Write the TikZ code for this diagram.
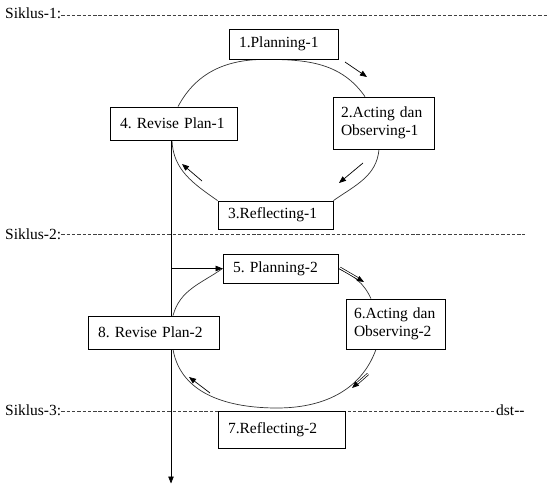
\documentclass[tikz,border=0pt]{standalone}
\usepackage{fontspec}
\setmainfont{Liberation Serif}
\usetikzlibrary{arrows.meta,backgrounds}
\frenchspacing
\begin{document}
\begin{tikzpicture}[x=1pt,y=1pt,
  box/.style={draw=black, fill=white, line width=0.8pt, inner xsep=10pt, inner ysep=0pt, align=left, font=\fontsize{15.5}{17.5}\selectfont},
  lbl/.style={inner sep=0pt, anchor=base west, font=\fontsize{15.5}{17.5}\selectfont},
  sepline/.style={draw=black!75, line width=0.7pt, dash pattern=on 3.4pt off 1.9pt},
  cyc/.style={draw=black!80, line width=0.7pt},
  arr/.style={draw=black, line width=0.7pt, -{Triangle[length=7pt,width=5.5pt]}},
  darr/.style={arr, double=white, double distance=1.1pt}
]
\useasboundingbox (0,0) rectangle (549,-484);

% section labels and separators
\node[lbl] (s1) at (5,-19) {Siklus-1:};
\node[lbl] (s2) at (5,-239) {Siklus-2:};
\node[lbl] (s3) at (5,-415) {Siklus-3:};
\node[lbl] (dst) at (496,-415) {dst-{}-};
\coordinate (s1e) at (549,-15.5);
\coordinate (s2e) at (525,-234.5);
\draw[sepline] (s1.east |- s1e) -- (s1e);
\draw[sepline] (s2.east |- s2e) -- (s2e);
\draw[sepline] ([yshift=4pt]s3.base east) -- ([yshift=4pt]dst.base west);

% boxes
\node[box, text width=89pt, minimum height=30pt] (B1) at (283.5,-44) {1.Planning-1};
\node[box, inner xsep=8pt, text width=85pt, minimum height=52pt] (B2) at (383.5,-123) {2.Acting dan\\Observing-1};
\node[box, text width=95pt, minimum height=28pt] (B3) at (275.5,-215) {3.Reflecting-1};
\node[box, text width=107pt, minimum height=33pt] (B4) at (173.5,-123.5) {4. Revise Plan-1};
\node[box, text width=95pt, minimum height=29pt] (B5) at (280.5,-268.5) {5. Planning-2};
\node[box, inner xsep=8pt, text width=83pt, minimum height=50pt] (B6) at (395.5,-324) {6.Acting dan\\Observing-2};
\node[box, text width=107pt, minimum height=37pt] (B7) at (281.5,-429.5) {7.Reflecting-2};
\node[box, text width=111pt, minimum height=33pt] (B8) at (153.5,-332.5) {8. Revise Plan-2};

% named coordinates
\coordinate (vtop) at (171,-140);
\coordinate (vend) at (171,-483.5);
\coordinate (bot2) at (277,-408);
\coordinate (a1s) at (345,-62);  \coordinate (a1e) at (367,-77);
\coordinate (a2s) at (363,-163); \coordinate (a2e) at (339,-183);
\coordinate (a3s) at (202,-181); \coordinate (a3e) at (182,-164);
\coordinate (a5s) at (340,-268); \coordinate (a5e) at (364,-282);
\coordinate (a6s) at (368,-374); \coordinate (a6e) at (352,-388);
\coordinate (a7s) at (210,-393); \coordinate (a7e) at (189,-377);

\begin{scope}[on background layer]
% cycle 1
\draw[cyc] ([xshift=4.5pt]B4.north) to[out=62,in=180] ([xshift=-18.5pt]B1.south)
           to[out=0,in=125] ([xshift=-18.5pt]B2.north);
\draw[cyc] ([xshift=-4.5pt]B2.south) to[out=-95,in=35] (B3.north east);
\draw[cyc] (B3.north west) to[out=145,in=-88] ([xshift=-1.5pt]B4.south);
% cycle 2
\draw[cyc] ([xshift=19.5pt]B8.north) to[out=75,in=215] (B5.west);
\draw[cyc] (B5.east) to[out=-25,in=115] ([xshift=-24.5pt]B6.north);
\draw[cyc] ([xshift=-19.5pt]B6.south) to[out=-110,in=0] (bot2)
           to[out=180,in=-80] ([xshift=19.5pt]B8.south);
% main vertical line
\draw[arr] (vtop) -- (vend);
\end{scope}
\draw[arr] (vtop |- B5.west) -- (B5.west);

% direction arrows
\draw[arr] (a1s) -- (a1e);
\draw[arr] (a2s) -- (a2e);
\draw[arr] (a3s) -- (a3e);
\draw[darr] (a5s) -- (a5e);
\draw[darr] (a6s) -- (a6e);
\draw[arr] (a7s) -- (a7e);
\end{tikzpicture}
\end{document}
